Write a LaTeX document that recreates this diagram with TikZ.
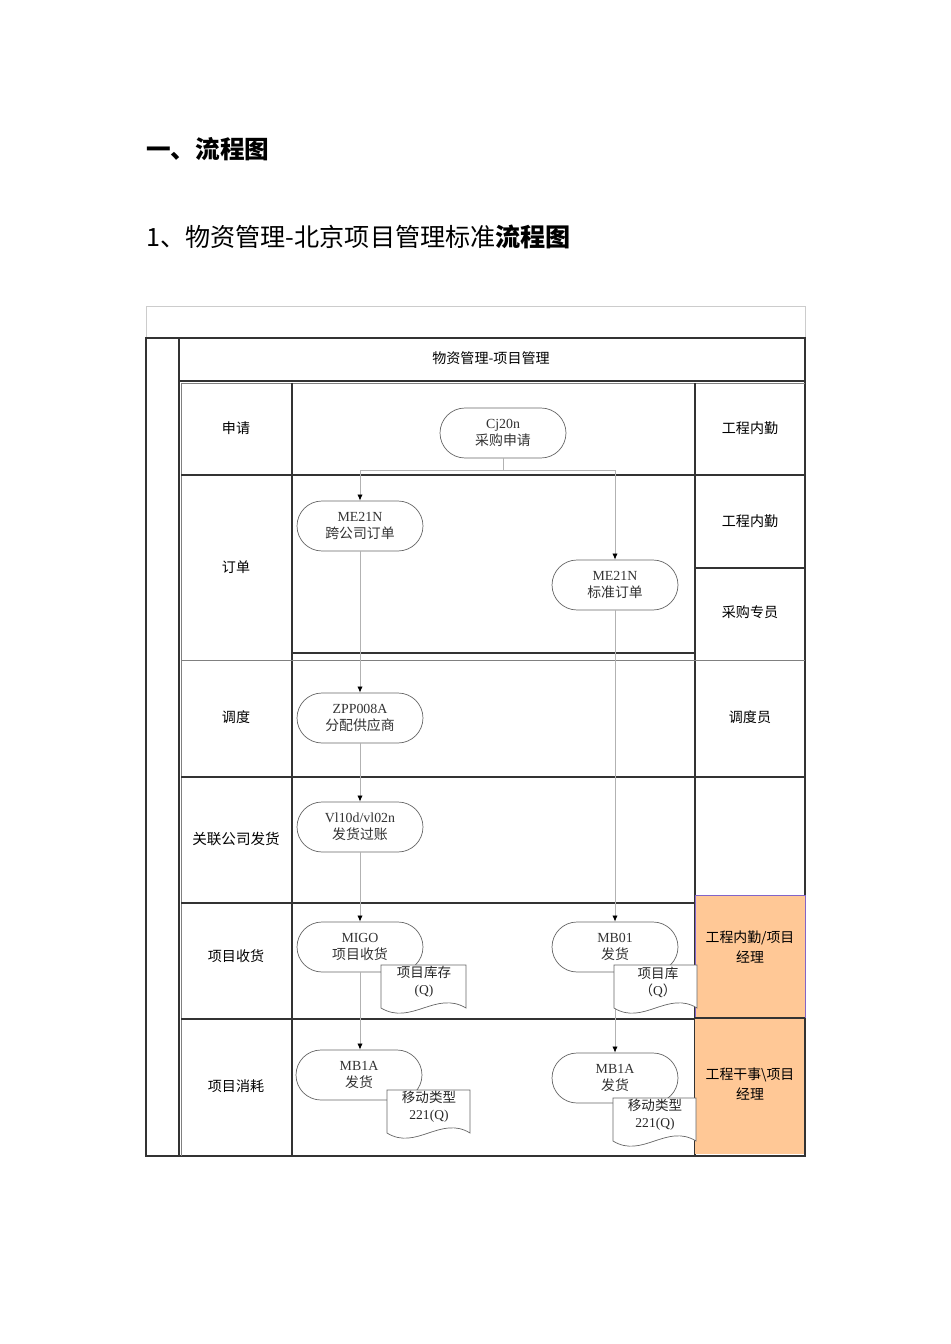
\documentclass[tikz,border=0pt]{standalone}
\usepackage{fontspec}
\setmainfont{Liberation Serif}
\newfontfamily\cjk{Noto Sans CJK SC}
\usepackage{xcolor}
\usetikzlibrary{arrows.meta, positioning, calc}
\definecolor{peach}{RGB}{255,200,150}
\definecolor{lilac}{RGB}{130,100,200}

\tikzset{
  proc/.style={draw=black!60, fill=white, rounded corners=0.5cm, minimum width=2.52cm,
    minimum height=1cm, inner sep=0pt, align=center, text=black!80,
    font=\fontsize{7.9}{9.7}\selectfont},
  doctext/.style={inner sep=0pt, align=center, text=black!85,
    font=\fontsize{7.7}{9.7}\selectfont},
  docline/.style={draw=black!60, fill=white},
  lane/.style={inner sep=0pt, align=center, font=\cjk\fontsize{8}{10}\selectfont},
  flow/.style={black!30, line width=0.5pt, -{Latex[black, length=3.5pt, width=3pt]}},
  grid/.style={black!80, line width=0.6pt},
}

\begin{document}
\begin{tikzpicture}[x=0.02cm, y=-0.02cm]
    \useasboundingbox (0,0) rectangle (950,1344);

    \node[anchor=west, inner sep=0pt, font=\cjk\bfseries\fontsize{14}{16}\selectfont] (head) at (146,149) {一、流程图};
    \node[anchor=west, inner sep=0pt, font=\cjk\fontsize{14.3}{16}\selectfont] (subhead) at (146,237)
      {1、物资管理-北京项目管理标准\textbf{流程图}};

    % frame
    \draw[black!20] (146,306) rectangle (805,338);
    \draw[grid] (146,338) -- (805,338) -- (805,1156) -- (146,1156) -- cycle;
    \draw[grid] (179,338) -- (179,1156);
    \draw[grid] (179,381) -- (805,381);
    \draw[black!50] (181,383) -- (805,383);
    \draw[black!50] (181,383) -- (181,1156);
    \node[lane] (band) at (491,358) {物资管理-项目管理};

    % columns and rows
    \draw[grid] (292,383) -- (292,1156);
    \draw[grid] (695,383) -- (695,1156);
    \draw[grid] (181,475) -- (805,475);
    \draw[grid] (292,653) -- (695,653);
    \draw[black!50] (181,660) -- (805,660);
    \draw[grid] (695,568) -- (805,568);
    \draw[grid] (181,777) -- (805,777);
    \draw[grid] (181,903) -- (695,903);
    \draw[grid] (181,1019) -- (695,1019);

    % roles in charge
    \fill[peach] (695,895) rectangle (805,1154);
    \draw[lilac] (695,895) rectangle (805,1018);
    \draw[grid] (695,1018) -- (805,1018);
    \draw[grid] (805,1018) -- (805,1156);

    \node[lane] (l1) at (236,428) {申请};
    \node[lane] (l2) at (236,567) {订单};
    \node[lane] (l3) at (236,717) {调度};
    \node[lane, font=\cjk\fontsize{8.3}{10}\selectfont] (l4) at (236,839) {关联公司发货};
    \node[lane] (l5) at (236,956) {项目收货};
    \node[lane] (l6) at (236,1086) {项目消耗};

    \node[lane] (r1) at (750,428) {工程内勤};
    \node[lane] (r2) at (750,521) {工程内勤};
    \node[lane] (r3) at (750,612) {采购专员};
    \node[lane] (r4) at (750,717) {调度员};
    \node[lane, font=\cjk\fontsize{7.9}{11}\selectfont] (r5) at (750,947) {工程内勤/项目\\经理};
    \node[lane, font=\cjk\fontsize{7.9}{11}\selectfont] (r6) at (750,1084) {工程干事\textbackslash 项目\\经理};

    % steps
    \node[proc] (req) at (503,433) {Cj20n\\{\cjk 采购申请}};
    \node[proc] (cross) at (360,526) {ME21N\\{\cjk 跨公司订单}};
    \node[proc] (std) at (615,585) {ME21N\\{\cjk 标准订单}};
    \node[proc] (dispatch) at (360,718) {ZPP008A\\{\cjk 分配供应商}};
    \node[proc] (ship) at (360,827) {Vl10d/vl02n\\{\cjk 发货过账}};
    \node[proc] (recv) at (360,947) {MIGO\\{\cjk 项目收货}};
    \node[proc] (issue) at (615,947) {MB01\\{\cjk 发货}};
    \node[proc] (useL) at (359,1075) {MB1A\\{\cjk 发货}};
    \node[proc] (useR) at (615,1078) {MB1A\\{\cjk 发货}};

    % flow
    \coordinate (split) at (503,470);
    \draw[black!30, line width=0.5pt] (req.south) -- (split);
    \draw[flow] (split) -| (cross.north);
    \draw[flow] (split) -| (std.north);
    \draw[flow] (cross.south) -- (dispatch.north);
    \draw[flow] (dispatch.south) -- (ship.north);
    \draw[flow] (ship.south) -- (recv.north);
    \draw[flow] (recv.south) -- (recv.south |- useL.north);
    \draw[flow] (std.south) -- (issue.north);
    \draw[flow] (issue.south) -- (useR.north);

    % documents
    \draw[docline] (381,965) -- (466,965) -- (466,1008)
      .. controls (436,990) and (411,1026) .. (381,1008) -- cycle;
    \node[doctext] (stockA) at (424,982) {{\cjk 项目库存}\\(Q)};

    \draw[docline] (614,965) -- (697,965) -- (697,1008)
      .. controls (668,990) and (643,1026) .. (614,1008) -- cycle;
    \node[doctext] (stockB) at (658,982) {{\cjk 项目库}\\{\cjk （}Q{\cjk ）}};

    \draw[docline] (387,1090) -- (470,1090) -- (470,1133)
      .. controls (441,1115) and (416,1151) .. (387,1133) -- cycle;
    \node[doctext] (moveA) at (429,1107) {{\cjk 移动类型}\\221(Q)};

    \draw[docline] (613,1098) -- (696,1098) -- (696,1141)
      .. controls (667,1123) and (642,1159) .. (613,1141) -- cycle;
    \node[doctext] (moveB) at (655,1115) {{\cjk 移动类型}\\221(Q)};
  \end{tikzpicture}
\end{document}
